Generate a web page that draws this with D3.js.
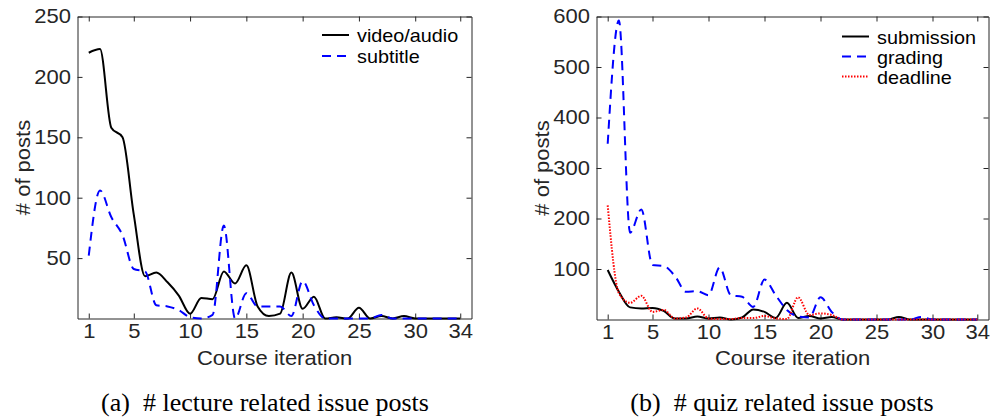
<!DOCTYPE html>
<html>
<head>
<meta charset="utf-8">
<script src="https://cdn.jsdelivr.net/npm/d3@7"></script>
<style>
  body { margin: 0; background: #fff; }
  svg { display: block; }
</style>
</head>
<body>
<svg id="chart" width="993" height="419"></svg>
<script>
// course iterations 1..34
const iterations = [1, 2, 3, 4, 5, 6, 7, 8, 9, 10, 11, 12, 13, 14, 15, 16, 17,
  18, 19, 20, 21, 22, 23, 24, 25, 26, 27, 28, 29, 30, 31, 32, 33, 34]
const xTicks = [1, 5, 10, 15, 20, 25, 30, 34]

// (a) lecture related issue posts
const videoAudio = [220, 223, 158, 150, 86, 35, 38, 30, 19, 4, 17, 16, 39, 29, 44, 10, 2,
  4, 38, 8, 18, 0, 1, 0, 9, 0, 2, 0, 2, 0, 0, 0, 0, 0]
const subtitle = [52, 106, 84, 69, 41, 39, 11, 10, 7, 1, 0, 3, 77, 0, 21, 10, 10,
  10, 2, 31, 11, 0, 0, 0, 0, 0, 3, 0, 0, 0, 0, 0, 0, 0]
const lectureTicks = [50, 100, 150, 200, 250]

// (b) quiz related issue posts
const submission = [98, 55, 24, 22, 23, 17, 2, 2, 6, 2, 4, 0, 4, 20, 15, 3, 33,
  3, 7, 2, 5, 0, 0, 0, 0, 0, 5, 0, 0, 0, 0, 0, 0, 0]
const grading = [348, 592, 172, 218, 108, 106, 86, 55, 56, 48, 103, 48, 45, 25, 79, 48, 19,
  6, 4, 44, 15, 0, 0, 0, 0, 0, 0, 0, 5, 0, 0, 0, 0, 0]
const deadline = [226, 52, 33, 47, 15, 19, 2, 4, 22, 2, 1, 1, 3, 3, 7, 2, 1,
  44, 9, 12, 9, 0, 0, 0, 0, 0, 0, 0, 0, 0, 0, 0, 0, 0]
const quizTicks = [100, 200, 300, 400, 500, 600]

const axisColor = '#262626'
const sansFont = '"Liberation Sans", Arial, Helvetica, sans-serif'
const stretch = 'scale(1.1,1)'

const svg = d3.select('#chart')

// slightly wide helvetica-like text, anchored at (x, y)
function addText (g, x, y, str, size, anchor, rotate) {
  let t = g.append('g')
    .attr('transform', `translate(${x},${y})` + (rotate ? ' rotate(-90)' : ''))
    .append('text')
    .attr('transform', stretch)
    .attr('text-anchor', anchor)
    .style('font-family', sansFont)
    .style('font-size', size + 'px')
    .style('fill', axisColor)
    .text(str)
  return t
}

function drawPanel (opts) {
  let x = d3.scaleLinear().domain([0, 35]).range([opts.left, opts.right])
  let y = d3.scaleLinear().domain([0, opts.yMax]).range([opts.bottom, opts.top])
  let g = svg.append('g')

  // mirrored box axes with inward ticks
  let bottomAxis = g.append('g')
    .attr('transform', `translate(0,${opts.bottom})`)
    .call(d3.axisBottom(x).tickValues(xTicks).tickSizeInner(-5).tickSizeOuter(0).tickPadding(5))
  let topAxis = g.append('g')
    .attr('transform', `translate(0,${opts.top})`)
    .call(d3.axisTop(x).tickValues(xTicks).tickSizeInner(-5).tickSizeOuter(0).tickFormat(''))
  let leftAxis = g.append('g')
    .attr('transform', `translate(${opts.left},0)`)
    .call(d3.axisLeft(y).tickValues(opts.yTicks).tickSizeInner(-5).tickSizeOuter(0).tickPadding(6))
  let rightAxis = g.append('g')
    .attr('transform', `translate(${opts.right},0)`)
    .call(d3.axisRight(y).tickValues(opts.yTicks).tickSizeInner(-5).tickSizeOuter(0).tickFormat(''))

  for (let a of [bottomAxis, topAxis, leftAxis, rightAxis]) {
    a.selectAll('path, line').attr('stroke', axisColor)
    a.selectAll('text')
      .attr('transform', stretch)
      .style('font-family', sansFont)
      .style('font-size', '20px')
      .style('fill', axisColor)
  }

  // curves
  let line = d3.line()
    .x((d, i) => x(iterations[i]))
    .y(d => y(d))
    .curve(d3.curveMonotoneX)

  for (let s of opts.series) {
    g.append('path')
      .datum(s.values)
      .attr('d', line)
      .attr('fill', 'none')
      .attr('stroke', s.color)
      .attr('stroke-width', s.width)
      .attr('stroke-dasharray', s.dash)
  }

  // legend
  opts.series.forEach((s, i) => {
    let ly = opts.legendY[i]
    g.append('line')
      .attr('x1', opts.legendX).attr('x2', opts.legendX + 27)
      .attr('y1', ly).attr('y2', ly)
      .attr('stroke', s.color)
      .attr('stroke-width', s.width)
      .attr('stroke-dasharray', s.dash)
    addText(g, opts.legendX + 35, ly + 7, s.name, 18, 'start')
      .style('fill', '#000')
  })

  // axis labels and caption
  let cx = (opts.left + opts.right) / 2
  addText(g, cx, 365, 'Course iteration', 20, 'middle')
  addText(g, opts.yLabelX, (opts.top + opts.bottom) / 2, '# of posts', 20, 'middle', true)
  g.append('text')
    .attr('x', opts.captionX)
    .attr('y', 411)
    .attr('text-anchor', 'middle')
    .style('font-family', '"Liberation Serif", "Times New Roman", serif')
    .style('font-size', '26px')
    .style('white-space', 'pre')
    .style('fill', '#000')
    .text(opts.caption)
}

drawPanel({
  left: 77.5, right: 471.5, top: 16.5, bottom: 318.5,
  yMax: 250, yTicks: lectureTicks,
  yLabelX: 30, captionX: 265, caption: '(a)  # lecture related issue posts',
  legendX: 322, legendY: [35, 56],
  series: [
    {name: 'video/audio', values: videoAudio, color: '#000', width: 2, dash: null},
    {name: 'subtitle', values: subtitle, color: '#0000ff', width: 2, dash: '9,6'}
  ]
})

drawPanel({
  left: 596.5, right: 988.5, top: 16.5, bottom: 319.5,
  yMax: 600, yTicks: quizTicks,
  yLabelX: 549, captionX: 782, caption: '(b)  # quiz related issue posts',
  legendX: 842, legendY: [36.5, 56.5, 76.5],
  series: [
    {name: 'submission', values: submission, color: '#000', width: 2, dash: null},
    {name: 'grading', values: grading, color: '#0000ff', width: 2, dash: '9,6'},
    {name: 'deadline', values: deadline, color: '#ff0000', width: 2, dash: '1.5,1.5'}
  ]
})
</script>
</body>
</html>
